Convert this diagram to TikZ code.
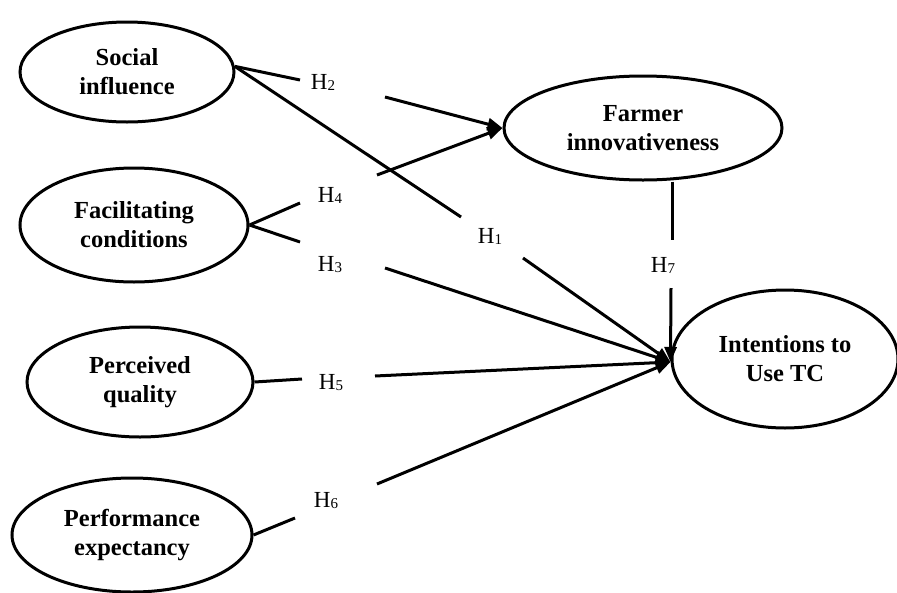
\documentclass[tikz,border=0pt]{standalone}
\usepackage{fontspec}
\setmainfont{Liberation Serif}
\usetikzlibrary{shapes.geometric,arrows.meta}
\newcommand{\hyplabel}[1]{H\raisebox{-1pt}{\fontsize{15}{15}\selectfont #1}}
\begin{document}
\begin{tikzpicture}[x=1pt,y=-1pt,
  construct/.style={ellipse,draw,line width=3pt,inner sep=0pt,align=center,
    font=\fontsize{24.5}{29}\selectfont\bfseries},
  hyp/.style={inner sep=0pt,font=\fontsize{23}{23}\selectfont},
  link/.style={line width=3pt},
  arr/.style={link,-{Triangle[length=15pt,width=12pt]}}]
\useasboundingbox (0,0) rectangle (897,592);
% constructs
\node[construct,minimum width=214pt,minimum height=100pt] (SI) at (127,72) {Social\\influence};
\node[construct,minimum width=228pt,minimum height=114pt] (FC) at (134,225) {Facilitating\\conditions};
\node[construct,minimum width=226pt,minimum height=110pt] (PQ) at (140,382) {Perceived\\quality};
\node[construct,minimum width=240pt,minimum height=114pt] (PE) at (132,535) {Performance\\expectancy};
\node[construct,minimum width=278pt,minimum height=104pt] (FI) at (643,128) {Farmer\\innovativeness};
\node[construct,minimum width=226pt,minimum height=138pt] (IT) at (785,359) {Intentions to\\Use TC};
% hypothesis labels
\node[hyp] (H2) at (323,82) {\hyplabel{2}};
\node[hyp] (H1) at (490,236) {\hyplabel{1}};
\node[hyp] (H4) at (330,195) {\hyplabel{4}};
\node[hyp] (H3) at (330,265) {\hyplabel{3}};
\node[hyp] (H5) at (331,383) {\hyplabel{5}};
\node[hyp] (H6) at (326,501) {\hyplabel{6}};
\node[hyp] (H7) at (663,265) {\hyplabel{7}};
% break points of the connectors
\coordinate (a2) at (300,80);  \coordinate (b2) at (385,97);
\coordinate (a1) at (461,217); \coordinate (b1) at (523,258);
\coordinate (a4) at (300,203); \coordinate (b4) at (377,175);
\coordinate (a3) at (300,242); \coordinate (b3) at (385,268);
\coordinate (a5) at (302,379); \coordinate (b5) at (375,376);
\coordinate (a6) at (295,518); \coordinate (b6) at (377,484);
\coordinate (a7) at (672,240); \coordinate (b7) at (671,288);
\coordinate (f7) at (a7 |- FI.south);
\coordinate (it) at ([yshift=-3pt]IT.west);
% connectors
\draw[link] (SI.3) -- (a2);
\draw[arr] (b2) -- (FI.west);
\draw[link] (SI.3) -- (a1);
\draw[arr] (b1) -- (it);
\draw[link] (FC.east) -- (a4);
\draw[arr] (b4) -- (FI.west);
\draw[link] (FC.east) -- (a3);
\draw[arr] (b3) -- (it);
\draw[link] (PQ.east) -- (a5);
\draw[arr] (b5) -- (it);
\draw[link] (PE.east) -- (a6);
\draw[arr] (b6) -- (it);
\draw[link] (f7) -- (a7);
\draw[arr] (b7) -- (it);
\end{tikzpicture}
\end{document}
